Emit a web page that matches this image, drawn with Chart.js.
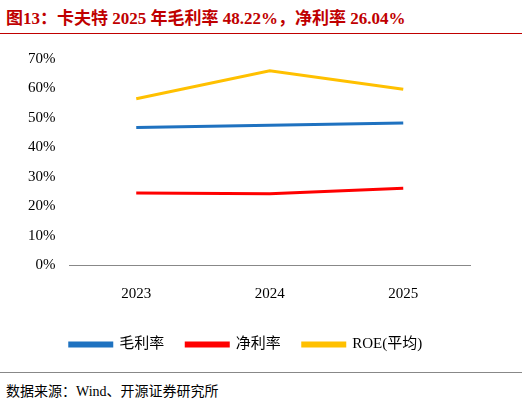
<!DOCTYPE html>
<html><head><meta charset="utf-8">
<script src="https://cdn.jsdelivr.net/npm/chart.js@4"></script>
<style>
body{margin:0;width:522px;height:405px;background:#fff;position:relative;overflow:hidden;font-family:"Liberation Serif","Noto Sans CJK SC",serif}
#t{position:absolute;left:6px;top:4px;font-size:17px;font-weight:bold;color:#c00000;font-family:"Liberation Serif","Noto Sans CJK SC",serif}
#l1{position:absolute;left:0;top:33px;width:522px;border-top:1.5px solid #c00000}
#l2{position:absolute;left:0;top:372px;width:522px;border-top:1px solid #888}
#s{position:absolute;left:6px;top:380px;font-size:14px;color:#000}
#c{position:absolute;left:0;top:44px;width:522px;height:322px}
</style></head><body>
<div id="t">图13：卡夫特 2025 年毛利率 48.22%，净利率 26.04%</div>
<div id="l1"></div>
<div id="c"><canvas id="cv"></canvas></div>
<div id="l2"></div>
<div id="s">数据来源：Wind、开源证券研究所</div>
<script>
const categories=["2023","2024","2025"];
const grossMargin=[46.7,47.5,48.22];
const netMargin=[24.5,24.2,26.04];
const roe=[56.5,66.0,59.7];
const yTicks=[0,10,20,30,40,50,60,70];
const f={family:"'Liberation Serif','Noto Sans CJK SC',serif",size:15};
new Chart(document.getElementById('cv'),{type:'line',
data:{labels:categories,datasets:[
{label:'毛利率',data:grossMargin,borderColor:'#1f72c0',backgroundColor:'#1f72c0',borderWidth:3,pointRadius:0},
{label:'净利率',data:netMargin,borderColor:'#ff0000',backgroundColor:'#ff0000',borderWidth:3,pointRadius:0},
{label:'ROE(平均)',data:roe,borderColor:'#ffc000',backgroundColor:'#ffc000',borderWidth:3,pointRadius:0}]},
options:{responsive:true,maintainAspectRatio:false,animation:false,
layout:{padding:{left:22,right:52,top:12,bottom:4}},
plugins:{legend:{position:'bottom',labels:{font:f,color:'#000',boxWidth:42,boxHeight:3,padding:22}},tooltip:{enabled:false}},
scales:{
x:{offset:true,grid:{display:false},border:{color:'#888'},ticks:{font:f,color:'#000',padding:12}},
y:{min:0,max:70,afterBuildTicks:a=>{a.ticks=yTicks.map(v=>({value:v}))},grid:{display:false},border:{display:false},ticks:{font:f,color:'#000',padding:6,callback:v=>v+'%'}}}}});
</script></body></html>
